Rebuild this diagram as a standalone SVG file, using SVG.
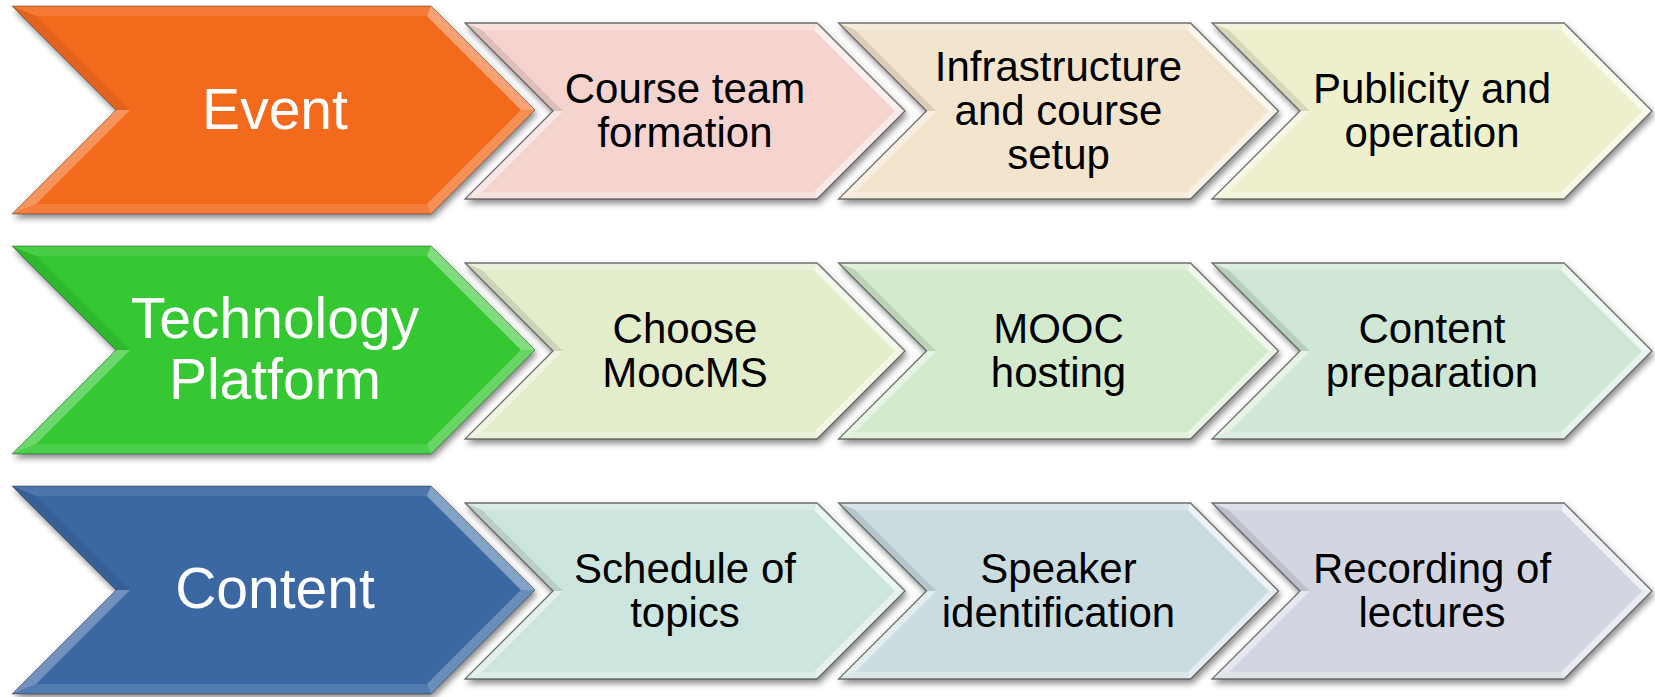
<svg xmlns="http://www.w3.org/2000/svg" xmlns:xlink="http://www.w3.org/1999/xlink" width="1655" height="697" viewBox="0 0 1655 697">
<style>
  .mt { font-family: "Liberation Sans", Arial, sans-serif; font-size: 57px; fill: #ffffff; text-anchor: middle; }
  .st { font-family: "Liberation Sans", Arial, sans-serif; font-size: 42px; fill: #000000; text-anchor: middle; }
</style>
<defs>
  <filter id="sh" x="-5%" y="-5%" width="112%" height="120%">
    <feDropShadow dx="2" dy="4" stdDeviation="3" flood-color="#000" flood-opacity="0.45"/>
  </filter>
  <g id="mainShape">
    <polygon points="0,0 419,0 523,104 419,208 0,208 104,104"/>
    <polygon points="0,0 419,0 414.9,10 24.1,10" fill="#fff" fill-opacity="0.1"/>
    <polygon points="419,0 523,104 508.9,104 414.9,10" fill="#fff" fill-opacity="0.38"/>
    <polygon points="523,104 419,208 414.9,198 508.9,104" fill="#fff" fill-opacity="0.25"/>
    <polygon points="419,208 0,208 24.1,198 414.9,198" fill="#fff" fill-opacity="0.12"/>
    <polygon points="0,208 104,104 118.1,104 24.1,198" fill="#fff" fill-opacity="0.28"/>
    <polygon points="104,104 0,0 24.1,10 118.1,104" fill="#000" fill-opacity="0.08"/>
    <polygon points="0,0 419,0 523,104 419,208 0,208 104,104" fill="none" stroke="#000" stroke-opacity="0.35" stroke-width="1"/>
  </g>
  <g id="smallShape">
    <polygon points="0,0 352,0 440,88 352,176 0,176 88,88"/>
    <polygon points="0,0 352,0 349.1,7 16.9,7" fill="#fff" fill-opacity="0.25"/>
    <polygon points="352,0 440,88 430.1,88 349.1,7" fill="#fff" fill-opacity="0.65"/>
    <polygon points="440,88 352,176 349.1,169 430.1,88" fill="#fff" fill-opacity="0.5"/>
    <polygon points="352,176 0,176 16.9,169 349.1,169" fill="#fff" fill-opacity="0.3"/>
    <polygon points="0,176 88,88 97.9,88 16.9,169" fill="#fff" fill-opacity="0.45"/>
    <polygon points="88,88 0,0 16.9,7 97.9,88" fill="#000" fill-opacity="0.1"/>
    <polygon points="0,0 352,0 440,88 352,176 0,176 88,88" fill="none" stroke="#444" stroke-opacity="0.75" stroke-width="1.3"/>
  </g>
</defs>

<g id="connectors"></g>

<!-- Row 1 -->
<g id="event">
  <use href="#mainShape" xlink:href="#mainShape" x="12" y="6" fill="#F36B1F" filter="url(#sh)"/>
  <text class="mt" x="275" y="129">Event</text>
</g>
<g id="course-team-formation">
  <use href="#smallShape" xlink:href="#smallShape" x="465" y="23" fill="#F5D4CF" filter="url(#sh)"/>
  <text class="st" x="685" y="103">Course team</text>
  <text class="st" x="685" y="147">formation</text>
</g>
<g id="infrastructure-setup">
  <use href="#smallShape" xlink:href="#smallShape" x="838.5" y="23" fill="#F3E4CD" filter="url(#sh)"/>
  <text class="st" x="1058.5" y="81">Infrastructure</text>
  <text class="st" x="1058.5" y="125">and course</text>
  <text class="st" x="1058.5" y="169">setup</text>
</g>
<g id="publicity-operation">
  <use href="#smallShape" xlink:href="#smallShape" x="1212" y="23" fill="#EEF0CD" filter="url(#sh)"/>
  <text class="st" x="1432" y="103">Publicity and</text>
  <text class="st" x="1432" y="147">operation</text>
</g>

<!-- Row 2 -->
<g id="technology-platform">
  <use href="#mainShape" xlink:href="#mainShape" x="12" y="246" fill="#34C832" filter="url(#sh)"/>
  <text class="mt" x="275" y="338">Technology</text>
  <text class="mt" x="275" y="399">Platform</text>
</g>
<g id="choose-moocms">
  <use href="#smallShape" xlink:href="#smallShape" x="465" y="263" fill="#E3EDCB" filter="url(#sh)"/>
  <text class="st" x="685" y="343">Choose</text>
  <text class="st" x="685" y="387">MoocMS</text>
</g>
<g id="mooc-hosting">
  <use href="#smallShape" xlink:href="#smallShape" x="838.5" y="263" fill="#D4EACC" filter="url(#sh)"/>
  <text class="st" x="1058.5" y="343">MOOC</text>
  <text class="st" x="1058.5" y="387">hosting</text>
</g>
<g id="content-preparation">
  <use href="#smallShape" xlink:href="#smallShape" x="1212" y="263" fill="#CFE7D4" filter="url(#sh)"/>
  <text class="st" x="1432" y="343">Content</text>
  <text class="st" x="1432" y="387">preparation</text>
</g>

<!-- Row 3 -->
<g id="content">
  <use href="#mainShape" xlink:href="#mainShape" x="12" y="486" fill="#3A68A3" filter="url(#sh)"/>
  <text class="mt" x="275" y="608">Content</text>
</g>
<g id="schedule-topics">
  <use href="#smallShape" xlink:href="#smallShape" x="465" y="503" fill="#CDE5DF" filter="url(#sh)"/>
  <text class="st" x="685" y="583">Schedule of</text>
  <text class="st" x="685" y="627">topics</text>
</g>
<g id="speaker-identification">
  <use href="#smallShape" xlink:href="#smallShape" x="838.5" y="503" fill="#CBDCE0" filter="url(#sh)"/>
  <text class="st" x="1058.5" y="583">Speaker</text>
  <text class="st" x="1058.5" y="627">identification</text>
</g>
<g id="recording-lectures">
  <use href="#smallShape" xlink:href="#smallShape" x="1212" y="503" fill="#D3D6E1" filter="url(#sh)"/>
  <text class="st" x="1432" y="583">Recording of</text>
  <text class="st" x="1432" y="627">lectures</text>
</g>
</svg>
